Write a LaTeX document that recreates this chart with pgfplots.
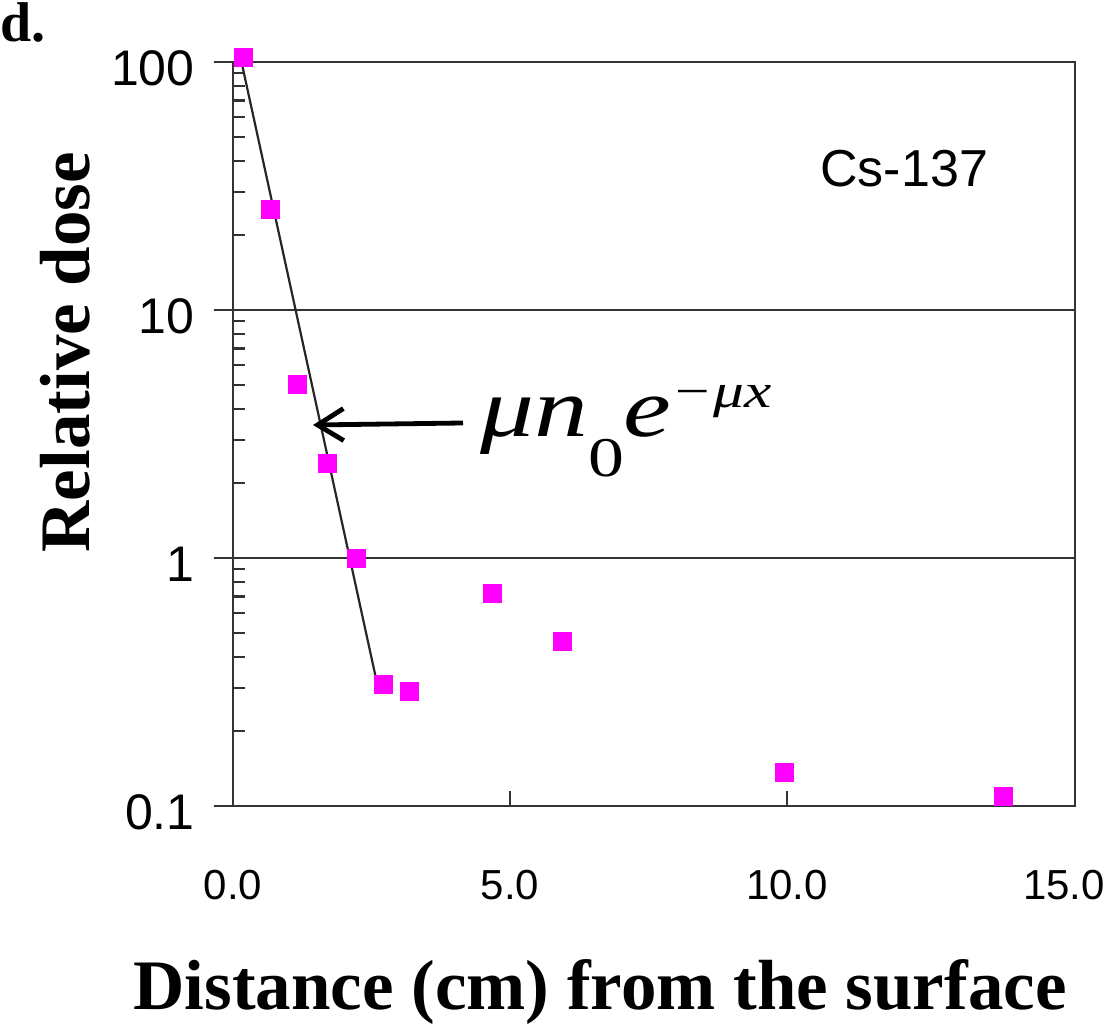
\documentclass[border=0pt]{standalone}
\usepackage{fontspec}
\usepackage{graphicx}
\usepackage{pgfplots}
\pgfplotsset{compat=1.18}
\usetikzlibrary{arrows.meta}
\setmainfont{Liberation Serif}
\newfontfamily\arial{Liberation Sans}
\definecolor{ptmag}{RGB}{255,0,255}

\begin{document}
\begin{tikzpicture}
  \path[use as bounding box] (-116.5pt,-111pt) rectangle (438pt,403pt);
  \begin{axis}[
      scale only axis,
      width=421pt, height=372pt,
      ymode=log,
      xmin=0, xmax=15.2,
      ymin=0.1, ymax=100,
      clip=false,
      xtick={0,5,10},
      xticklabels={0.0,5.0,10.0},
      extra x ticks={15},
      extra x tick labels={15.0},
      extra x tick style={major tick length=0pt},
      ytick={0.1,1,10,100},
      yticklabels={0.1,1,10,100},
      minor ytick={0.2,0.3,0.4,0.5,0.6,0.7,0.8,0.9,2,3,4,5,6,7,8,9,20,30,40,50,60,70,80,90},
      tick align=inside,
      xtick pos=left, ytick pos=left,
      major tick length=7.5pt,
      minor tick length=6pt,
      every tick/.style={black!80, line width=1.1pt},
      axis line style={black!80, line width=1.3pt},
      ymajorgrids,
      major grid style={black!80, line width=1pt},
      extra y ticks={0.1,1,10,100},
      extra y tick labels={},
      extra y tick style={tick align=outside, major tick length=9.5pt},
      xticklabel style={font=\arial\fontsize{21}{21}\selectfont, anchor=center, inner sep=0pt, yshift=-39.5pt},
      yticklabel style={font=\arial\fontsize{25}{25}\selectfont, anchor=east, inner sep=0pt, xshift=-19pt, yshift=-3pt},
      xlabel={Distance (cm) from the surface},
      xlabel style={font=\bfseries\fontsize{35.5}{36}\selectfont, at={(rel axis cs:0.436,-0.274)}, anchor=base},
      ylabel={Relative dose},
      ylabel style={font=\bfseries\fontsize{35.5}{36}\selectfont, at={(rel axis cs:-0.1995,0.61)}, anchor=center},
    ]
    % measured dose
    \addplot[only marks, mark=square*, mark size=4.5pt, mark options={draw=ptmag, fill=ptmag}]
      coordinates {(0.18,104) (0.67,25.5) (1.17,5.0) (1.71,2.4) (2.22,1.0) (2.71,0.31)
                   (3.19,0.29) (4.69,0.72) (5.94,0.46) (9.95,0.136) (13.9,0.109)};
    % exponential fit
    \addplot[black!85, line width=1.1pt] coordinates {(0.126,106.7) (2.6,0.313)};
  \end{axis}
  \node[anchor=base west, inner sep=0pt, font=\bfseries\fontsize{28}{28}\selectfont] at (-116.5pt,382pt) {d.};
  \node[anchor=base west, inner sep=0pt, font=\arial\fontsize{26}{26}\selectfont] at (293.5pt,309.5pt) {Cs-137};
  \draw[line width=2.4pt, -{Straight Barb[length=13pt,width=16pt,line width=2.4pt]}] (115pt,191.5pt) -- (40pt,190.5pt);
  \node[anchor=base west, inner sep=0pt] at (123.5pt,184.5pt)
    {\scalebox{1.28}[1]{\fontsize{42}{42}\selectfont\itshape μn\raisebox{-20pt}{\fontsize{28}{28}\selectfont\upshape 0}e\raisebox{14.5pt}{\fontsize{24}{24}\selectfont −μx}}};
\end{tikzpicture}
\end{document}
